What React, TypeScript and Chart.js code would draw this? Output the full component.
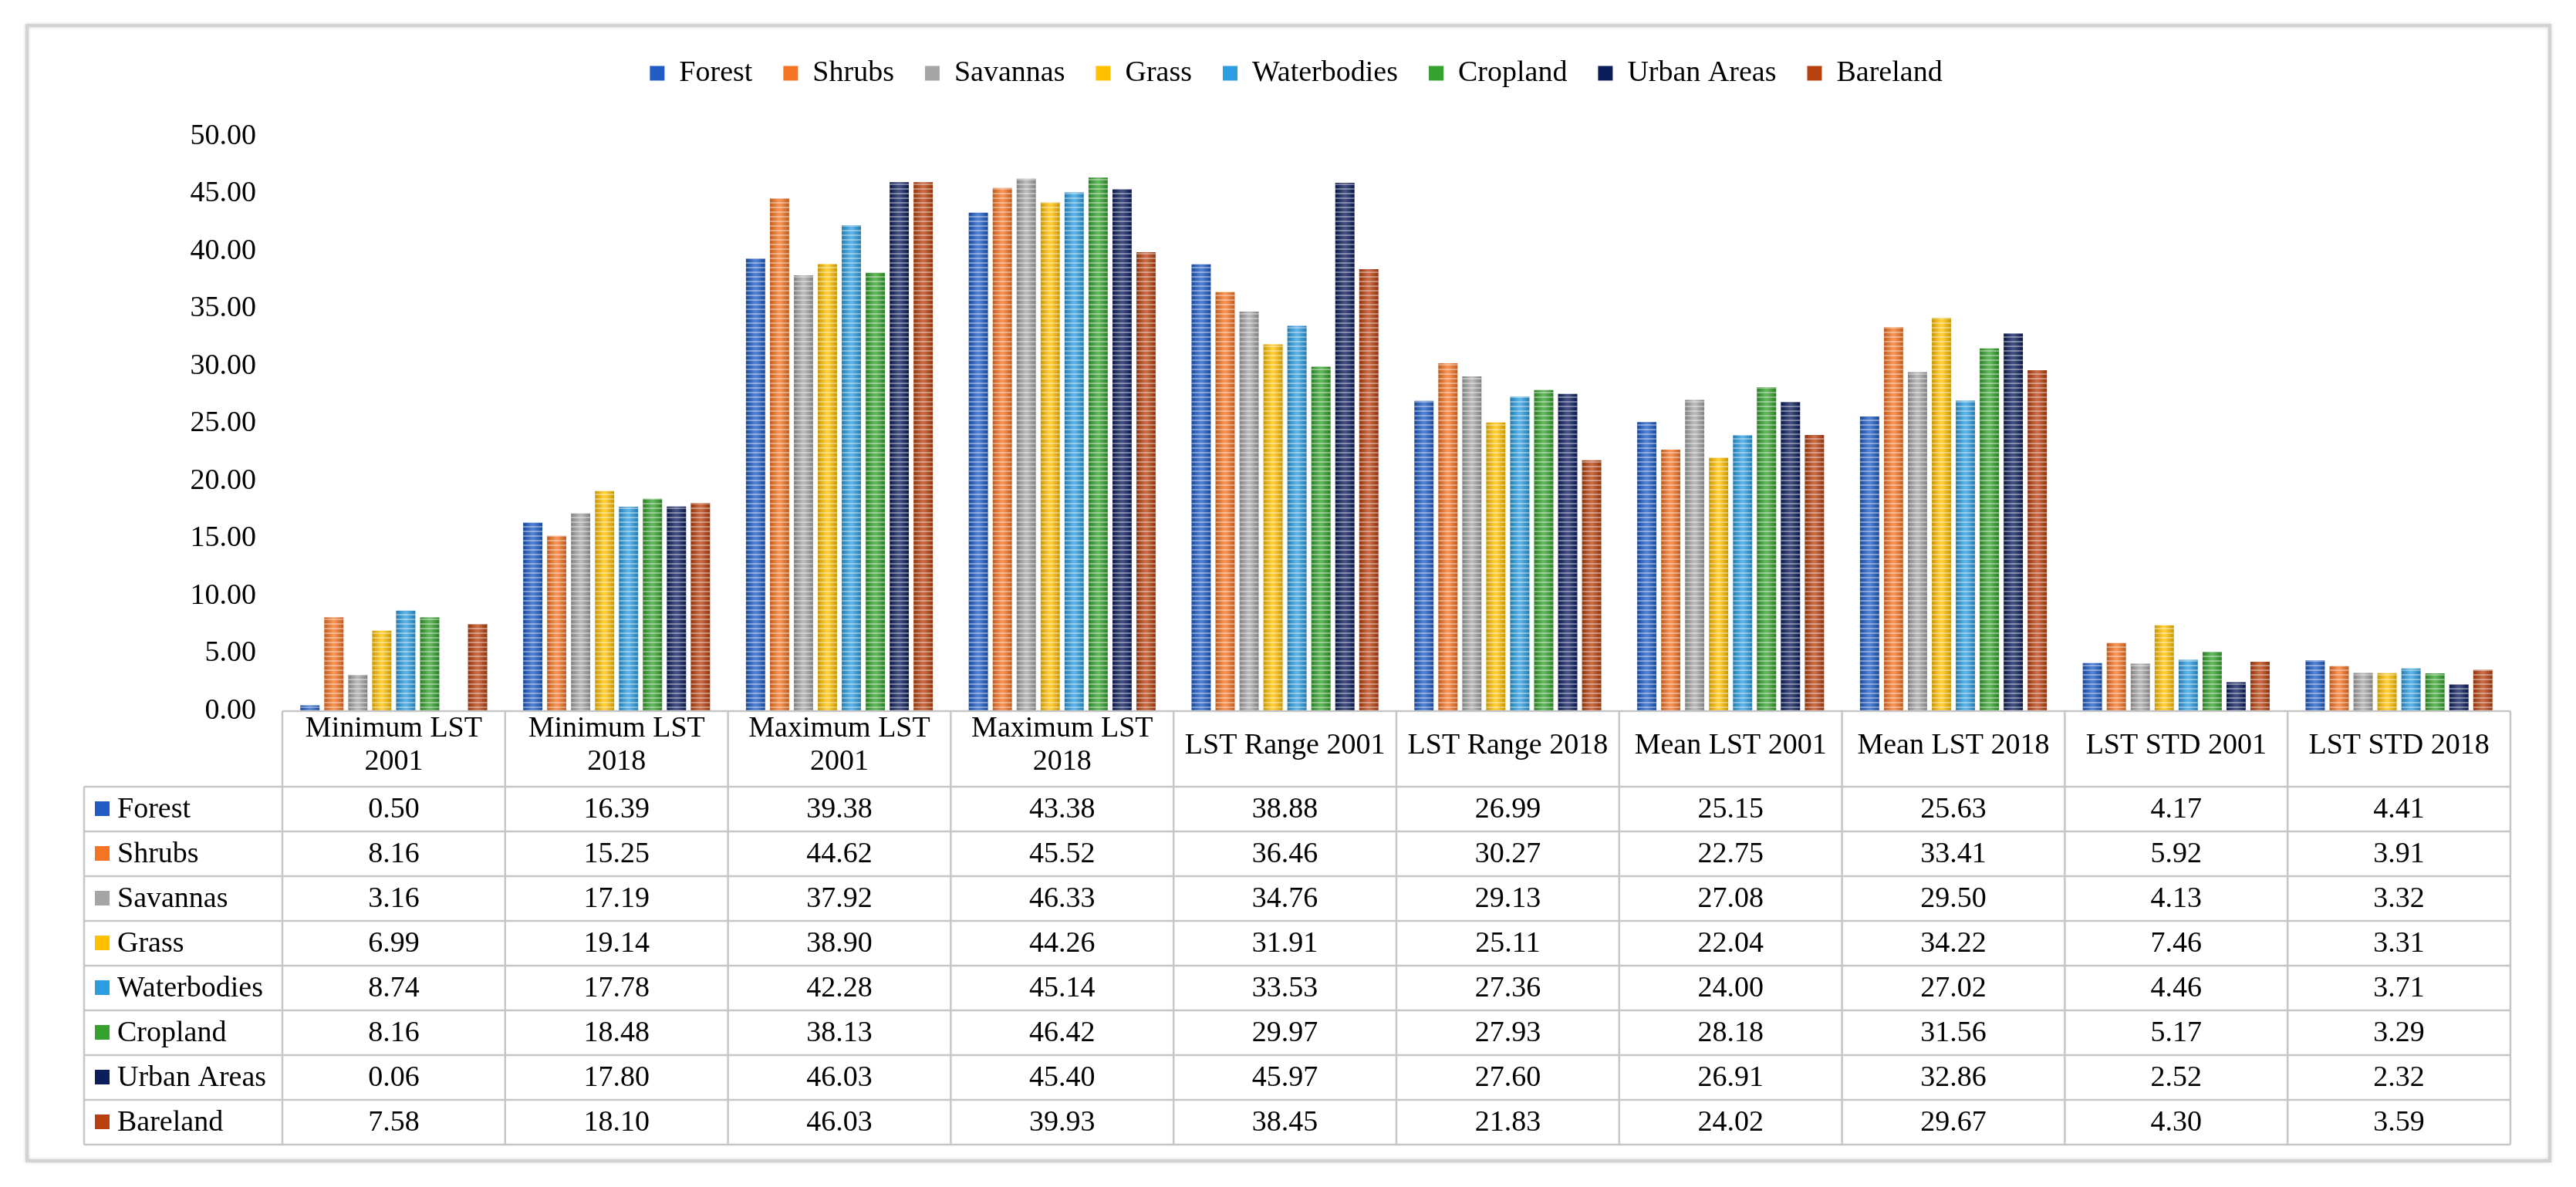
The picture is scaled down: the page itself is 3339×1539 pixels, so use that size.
import React, { useEffect, useRef } from 'react';
import { Chart, registerables } from 'chart.js';

Chart.register(...registerables);

// ---------- data ----------
const categories = [
  'Minimum LST 2001',
  'Minimum LST 2018',
  'Maximum LST 2001',
  'Maximum LST 2018',
  'LST Range 2001',
  'LST Range 2018',
  'Mean LST 2001',
  'Mean LST 2018',
  'LST STD 2001',
  'LST STD 2018',
];

const seriesNames = ['Forest', 'Shrubs', 'Savannas', 'Grass', 'Waterbodies', 'Cropland', 'Urban Areas', 'Bareland'];

const forest = [0.5, 16.39, 39.38, 43.38, 38.88, 26.99, 25.15, 25.63, 4.17, 4.41];
const shrubs = [8.16, 15.25, 44.62, 45.52, 36.46, 30.27, 22.75, 33.41, 5.92, 3.91];
const savannas = [3.16, 17.19, 37.92, 46.33, 34.76, 29.13, 27.08, 29.5, 4.13, 3.32];
const grass = [6.99, 19.14, 38.9, 44.26, 31.91, 25.11, 22.04, 34.22, 7.46, 3.31];
const waterbodies = [8.74, 17.78, 42.28, 45.14, 33.53, 27.36, 24.0, 27.02, 4.46, 3.71];
const cropland = [8.16, 18.48, 38.13, 46.42, 29.97, 27.93, 28.18, 31.56, 5.17, 3.29];
const urbanAreas = [0.06, 17.8, 46.03, 45.4, 45.97, 27.6, 26.91, 32.86, 2.52, 2.32];
const bareland = [7.58, 18.1, 46.03, 39.93, 38.45, 21.83, 24.02, 29.67, 4.3, 3.59];

const seriesValues = [forest, shrubs, savannas, grass, waterbodies, cropland, urbanAreas, bareland];

const seriesColors = ['#1f5cc6', '#f47423', '#a5a5a5', '#ffc000', '#2c9de0', '#35a22d', '#0c1d5c', '#b8400f'];

const yMin = 0;
const yMax = 50;
const yStep = 5;

// ---------- styling ----------
const FAMILY = "'Liberation Serif', 'Times New Roman', serif";
const FONT_SIZE = 38;
const FONT = `${FONT_SIZE}px ${FAMILY}`;

const frameBox = { left: 35, top: 33, right: 3305, bottom: 1505 };
const tableLabelLeft = 109;
const headerHeight = 98;
const rowHeight = 58;
const lineColor = '#c6c6c6';

function wrapText(ctx: CanvasRenderingContext2D, text: string, maxW: number): string[] {
  const words = text.split(' ');
  const lines: string[] = [];
  let cur = '';
  for (const w of words) {
    const test = cur ? cur + ' ' + w : w;
    if (ctx.measureText(test).width > maxW && cur) {
      lines.push(cur);
      cur = w;
    } else {
      cur = test;
    }
  }
  if (cur) lines.push(cur);
  return lines;
}

const framePlugin = {
  id: 'framePlugin',
  beforeDraw(chart: any) {
    const { ctx, width, height } = chart;
    ctx.save();
    ctx.fillStyle = '#ffffff';
    ctx.fillRect(0, 0, width, height);
    ctx.shadowColor = 'rgba(0,0,0,0.18)';
    ctx.shadowBlur = 4;
    ctx.strokeStyle = '#d2d2d2';
    ctx.lineWidth = 4;
    ctx.strokeRect(frameBox.left, frameBox.top, frameBox.right - frameBox.left, frameBox.bottom - frameBox.top);
    ctx.restore();
  },
};

const barStylePlugin = {
  id: 'barStylePlugin',
  afterDatasetsDraw(chart: any) {
    const { ctx } = chart;
    ctx.save();
    chart.data.datasets.forEach((_ds: any, di: number) => {
      const meta = chart.getDatasetMeta(di);
      meta.data.forEach((el: any) => {
        const { x, y, base, width } = el.getProps(['x', 'y', 'base', 'width'], true);
        const left = x - width / 2;
        const top = Math.min(y, base);
        const h = Math.abs(base - y);
        if (h <= 0) return;
        const g = ctx.createLinearGradient(left, 0, left + width, 0);
        g.addColorStop(0, 'rgba(0,0,0,0.22)');
        g.addColorStop(0.45, 'rgba(255,255,255,0.22)');
        g.addColorStop(0.55, 'rgba(255,255,255,0.22)');
        g.addColorStop(1, 'rgba(0,0,0,0.22)');
        ctx.fillStyle = g;
        ctx.fillRect(left, top, width, h);
        ctx.fillStyle = 'rgba(255,255,255,0.38)';
        for (let yy = base - 4; yy > top; yy -= 6) {
          const sh = Math.min(2, yy - top);
          ctx.fillRect(left, yy - sh, width, sh);
        }
      });
    });
    ctx.restore();
  },
};

const tablePlugin = {
  id: 'tablePlugin',
  afterDraw(chart: any) {
    const { ctx, chartArea } = chart;
    const left = chartArea.left;
    const right = chartArea.right;
    const n = categories.length;
    const cw = (right - left) / n;
    const top = chartArea.bottom;
    const rowsTop = top + headerHeight;
    const bottom = rowsTop + rowHeight * seriesNames.length;

    ctx.save();
    ctx.strokeStyle = lineColor;
    ctx.lineWidth = 2.5;
    ctx.beginPath();
    ctx.moveTo(left, top);
    ctx.lineTo(right, top);
    for (let k = 0; k <= seriesNames.length; k++) {
      const yy = rowsTop + k * rowHeight;
      ctx.moveTo(tableLabelLeft, yy);
      ctx.lineTo(right, yy);
    }
    for (let i = 0; i <= n; i++) {
      const xx = left + i * cw;
      ctx.moveTo(xx, top);
      ctx.lineTo(xx, bottom);
    }
    ctx.moveTo(tableLabelLeft, rowsTop);
    ctx.lineTo(tableLabelLeft, bottom);
    ctx.stroke();

    ctx.font = FONT;
    ctx.fillStyle = '#000000';
    ctx.textBaseline = 'middle';
    ctx.textAlign = 'center';

    // header
    const lh = 43;
    categories.forEach((cat, i) => {
      const cx = left + (i + 0.5) * cw;
      const lines = wrapText(ctx, cat, cw - 20);
      const cy = top + headerHeight / 2 - 4;
      const startY = cy - ((lines.length - 1) * lh) / 2;
      lines.forEach((ln, li) => ctx.fillText(ln, cx, startY + li * lh));
    });

    // rows
    seriesNames.forEach((name, r) => {
      const cy = rowsTop + (r + 0.5) * rowHeight;
      ctx.fillStyle = seriesColors[r];
      ctx.fillRect(123, cy - 10, 19, 19);
      ctx.fillStyle = '#000000';
      ctx.textAlign = 'left';
      ctx.fillText(name, 152, cy + 1);
      ctx.textAlign = 'center';
      seriesValues[r].forEach((v, i) => {
        const cx = left + (i + 0.5) * cw;
        ctx.fillText(v.toFixed(2), cx, cy + 1);
      });
    });
    ctx.restore();
  },
};

export default function App() {
  const canvasRef = useRef<HTMLCanvasElement | null>(null);

  useEffect(() => {
    if (!canvasRef.current) return;
    const chart = new Chart(canvasRef.current, {
      type: 'bar',
      data: {
        labels: categories,
        datasets: seriesNames.map((name, i) => ({
          label: name,
          data: seriesValues[i],
          backgroundColor: seriesColors[i],
          borderWidth: 0,
          categoryPercentage: 0.86,
          barPercentage: 0.8,
        })),
      },
      options: {
        animation: false,
        responsive: true,
        maintainAspectRatio: false,
        layout: { padding: { top: 36, left: 106, right: 85, bottom: 617 } },
        plugins: {
          title: { display: false },
          subtitle: {
            display: true,
            text: '',
            weight: 500,
            font: { size: 10, lineHeight: 1 },
            padding: { top: 0, bottom: 43 },
          } as any,
          tooltip: { enabled: false },
          legend: {
            display: true,
            position: 'top',
            labels: {
              boxWidth: 19,
              boxHeight: 19,
              padding: 40,
              color: '#000000',
              font: { family: FAMILY, size: FONT_SIZE },
            },
          },
        },
        scales: {
          x: {
            display: false,
          },
          y: {
            min: yMin,
            max: yMax,
            border: { display: false },
            grid: { display: false, drawTicks: false },
            ticks: {
              stepSize: yStep,
              padding: 34,
              color: '#000000',
              font: { family: FAMILY, size: FONT_SIZE },
              callback: (v: any) => Number(v).toFixed(2),
            },
            afterFit: (scale: any) => {
              scale.width = 260;
            },
          },
        },
      },
      plugins: [framePlugin, barStylePlugin, tablePlugin],
    });
    return () => chart.destroy();
  }, []);

  return (
    <div style={{ position: 'absolute', left: 0, top: 0, width: '3339px', height: '1539px' }}>
      <canvas ref={canvasRef} />
    </div>
  );
}
